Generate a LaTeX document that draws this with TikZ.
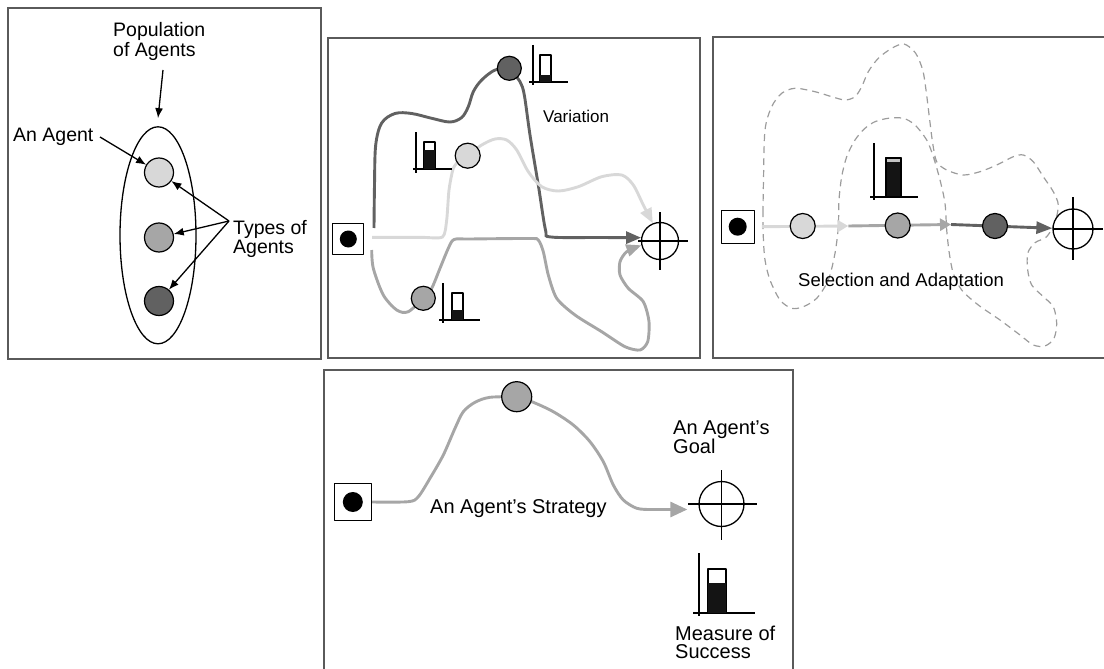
\documentclass[tikz,border=0pt]{standalone}
\usepackage{fontspec}
\setmainfont{Liberation Sans}
\usetikzlibrary{arrows.meta,shapes.geometric,backgrounds}
\definecolor{lightc}{HTML}{D8D8D8}
\definecolor{midc}{HTML}{A6A6A6}
\definecolor{darkc}{HTML}{616161}
\definecolor{framec}{HTML}{5A5A5A}
\definecolor{dashc}{HTML}{9C9C9C}
\definecolor{barc}{HTML}{141414}
\definecolor{bandc}{HTML}{C4C4C4}
\begin{document}
\begin{tikzpicture}[x=1pt,y=-1pt,line join=round,
  frame/.style={draw=framec,line width=1.4pt},
  agent/.style={circle,draw=black,line width=1.2pt,inner sep=0pt,minimum size=#1},
  startbox/.style={draw=black,line width=1.2pt,inner sep=0pt,minimum size=#1,fill=white},
  blackdot/.style={circle,fill=black,inner sep=0pt,minimum size=#1},
  target/.style={circle,draw=black,line width=1.3pt,inner sep=0pt,fill=white,minimum size=#1},
  cross/.style={draw=black,line width=1.3pt},
  lab/.style={inner sep=0pt,anchor=base west,text=black},
  fA/.style={font=\fontsize{19.5pt}{23pt}\selectfont},
  fB/.style={font=\fontsize{17pt}{20pt}\selectfont},
  fC/.style={font=\fontsize{18.5pt}{22pt}\selectfont},
  fD/.style={font=\fontsize{20pt}{24pt}\selectfont},
  blackarr/.style={draw=black,line width=1.3pt,-{Latex[length=10pt,width=8pt]}},
  lpath/.style={draw=lightc,line width=2.9pt},
  mpath/.style={draw=midc,line width=2.9pt},
  dpath/.style={draw=darkc,line width=2.9pt},
  landscape/.style={draw=dashc,line width=1.2pt,dash pattern=on 7pt off 5pt},
  axis/.style={draw=black,line width=1.2pt},
  baro/.style={draw=black,line width=1.1pt,fill=white},
  barf/.style={fill=barc},
]
\useasboundingbox (0,0) rectangle (1104,669);

%================ Panel 1
\node[ellipse,draw=black,line width=1.3pt,minimum width=76pt,minimum height=217pt,inner sep=0pt] (pop) at (158,235.3) {};
\node[agent=29pt,fill=lightc] (p1a) at (159,172.5) {};
\node[agent=29pt,fill=midc] (p1b) at (159,237.5) {};
\node[agent=29pt,fill=darkc] (p1c) at (159,301) {};
\node[lab,fA] (pop1) at (113,37) {Population};
\node[lab,fA] (pop2) at (113,57) {of Agents};
\node[lab,fA] (ana) at (13,142) {An Agent};
\node[lab,fA] (typ1) at (233,234) {Types of};
\node[lab,fA] (typ2) at (233,253) {Agents};
\coordinate (popa) at (163,70);
\draw[blackarr] (popa) -- ([yshift=8pt]pop.north);
\coordinate (anaa) at (100,137);
\draw[blackarr] (anaa) -- (p1a);
\coordinate (typa) at (229,221);
\draw[blackarr] (typa) -- (p1a);
\draw[blackarr] (typa) -- (p1b);
\draw[blackarr] (typa) -- (p1c);

%================ Panel 2
\node[startbox=31pt] (s2) at (348.3,239) {};
\node[blackdot=17pt] (s2d) at (s2.center) {};
\node[target=37pt] (t2) at (660,241) {};
\draw[cross] ([xshift=-22pt]t2.center) -- ([xshift=28pt]t2.center);
\draw[cross] ([yshift=29pt]t2.center) -- ([yshift=-29pt]t2.center);
\node[agent=24pt,fill=darkc] (a2d) at (509.3,68.3) {};
\node[agent=25pt,fill=lightc] (a2l) at (467.7,155.7) {};
\node[agent=24pt,fill=midc] (a2m) at (423.3,298.3) {};
\node[lab,fB] (var) at (543,122) {Variation};
% meters
\draw[axis] (533,45) -- (533,85);
\draw[axis] (529,82) -- (568,82);
\draw[baro] (540,55) rectangle (551,82);
\fill[barf] (540,75) rectangle (551,82);
\draw[axis] (416,132) -- (416,173);
\draw[axis] (413,169) -- (452,169);
\draw[baro] (424,142) rectangle (435,169);
\fill[barf] (424,150) rectangle (435,169);
\draw[axis] (443,283) -- (443,323);
\draw[axis] (439,320) -- (480,320);
\draw[baro] (452,293) rectangle (463,320);
\fill[barf] (452,310) rectangle (463,320);

%================ Panel 3
\node[startbox=33pt] (s3) at (737.7,226.7) {};
\node[blackdot=18pt] (s3d) at (s3.center) {};
\node[target=40pt] (t3) at (1073,229) {};
\draw[cross] ([xshift=-20pt]t3.center) -- ([xshift=30pt]t3.center);
\draw[cross] ([yshift=32pt]t3.center) -- ([yshift=-31pt]t3.center);
\coordinate (c3a) at (848.3,226);
\coordinate (c3b) at (951,224.5);
\node[agent=25pt,fill=lightc] (a3l) at (802.7,226) {};
\node[agent=25pt,fill=midc] (a3m) at (897.7,225.5) {};
\node[agent=25pt,fill=darkc] (a3d) at (995,226) {};
\node[lab,fC] (sel) at (798,286) {Selection and Adaptation};
\draw[axis] (874,143) -- (874,200);
\draw[axis] (870,197) -- (918,197);
\draw[baro] (886,158) rectangle (901,197);
\fill[bandc] (886.5,158.5) rectangle (900.5,162);
\fill[barf] (886,162) rectangle (901,197);
\draw[draw=black,line width=1.1pt] (886,158) rectangle (901,197);

%================ Panel 4
\node[startbox=37pt] (s4) at (352.8,502) {};
\node[blackdot=20pt] (s4d) at (s4.center) {};
\node[agent=30pt,fill=midc] (a4) at (516.7,396.7) {};
\node[target=45pt] (t4) at (721.5,504) {};
\draw[cross] ([xshift=-33.5pt]t4.center) -- ([xshift=35.5pt]t4.center);
\draw[cross] ([yshift=34pt]t4.center) -- ([yshift=-36pt]t4.center);
\node[lab,fD] (strat) at (430,513) {An Agent's Strategy};
\node[lab,fD] (goal1) at (673,434) {An Agent's};
\node[lab,fD] (goal2) at (673,453) {Goal};
\node[lab,fD] (meas1) at (675,640) {Measure of};
\node[lab,fD] (meas2) at (675,658) {Success};
\draw[axis] (699,553) -- (699,616);
\draw[axis] (693,613) -- (755,613);
\draw[baro] (708,569) rectangle (726,613);
\fill[barf] (708,583) rectangle (726,613);

%================ background: frames and paths
\begin{scope}[on background layer]
\draw[frame] (8,8) rectangle (321,359);
\draw[frame] (328,38) rectangle (700,358);
\draw[frame] (713,37) rectangle (1115,358);
\draw[frame] (324,370) rectangle (793,680);

% panel 2 paths
\draw[dpath] plot[smooth,tension=0.55] coordinates {(374,228) (374.5,185) (375.7,145) (381.7,123) (395,113.5) (411.7,113.5) (431.7,118.3) (450,122) (461.7,117.5) (468.3,106.7) (473.3,91.7) (481.7,80) (495,70) (a2d.center)};
\draw[dpath,-{Triangle[length=15pt,width=12pt]}] plot[smooth,tension=0.5] coordinates {(a2d.center) (520,81.7) (524.3,95) (530,135) (538.3,185) (545.5,230) (551,237) (600,237.5) (t2.170)};
\draw[lpath] plot[smooth,tension=0.4] coordinates {(372,237.3) (420,237.3) (442.5,237) (446.7,220) (449,190) (453.3,168.3) (460,160) (a2l.center)};
\draw[lpath,-{Triangle[length=15pt,width=12pt]}] plot[smooth,tension=0.5] coordinates {(a2l.center) (481.7,145) (495,139) (506.7,140) (516.7,150) (528.3,171.7) (541.7,186.7) (558.3,191) (578.3,186.7) (601.7,176.7) (621.7,175) (633.3,185) (643.3,205) (t2.112)};
\draw[mpath] plot[smooth,tension=0.5] coordinates {(371.7,250) (373.3,268.3) (383.3,295) (396.7,310) (408.3,311.7) (a2m.center)};
\draw[mpath,-{Triangle[length=15pt,width=12pt]}] plot[smooth,tension=0.45] coordinates {(a2m.center) (431.7,288.3) (440,268.3) (448.3,248.3) (454,239.5) (470,239) (530,238.5) (538.3,240) (543.3,251.7) (548.3,275) (556.7,298.3) (575,315) (601.7,331.7) (625,346.7) (640,350) (647.7,341.7) (649,321.7) (643.3,301.7) (628.3,288.3) (620,275) (620,261.7) (626.7,251.7) (t2.193)};

% panel 3 landscape and paths
\draw[landscape] plot[smooth cycle,tension=0.5] coordinates {(763.3,236.7) (763,213) (763.5,180) (765,130) (771.7,106.7) (781.7,93.3) (795,88.3) (815,91.7) (831.7,96.7) (845,100) (855,96.7) (861.7,86.7) (868.3,71.7) (878.3,58.3) (891.7,48.3) (904,44) (915.5,53) (922.7,70) (926,90) (929.3,116.7) (932.7,143.3) (936.7,161.7) (946.7,170) (963.3,175) (980,171.7) (996.7,165) (1013.3,156.7) (1023.3,155) (1033.3,161.7) (1043.3,176.7) (1053.3,191.7) (1058.3,205) (1055,222) (1046.7,236.7) (1035,242.7) (1027.7,253.3) (1027.7,270) (1031.7,285) (1043.3,296.7) (1053.3,306.7) (1056.7,323.3) (1054,338.3) (1045,346) (1033.3,345) (1020,335) (1000,320) (978.3,305) (961.7,290) (953.3,273.3) (949.3,253.3) (946.7,230) (945,203.3) (940,180) (933.3,156.7) (926.7,140) (915,125) (903.3,118.3) (888.3,118.3) (875,121.7) (865,128.3) (855,140) (846.7,156.7) (841.7,176.7) (839,200) (838.3,226.7) (835,253.3) (828.3,280) (816.7,298.3) (803.3,306.7) (791.7,308.3) (780,300) (770,280) (765,260)};
\draw[lpath,-{Triangle[length=11pt,width=12pt]}] ([xshift=7pt]s3.east) -- (c3a);
\draw[mpath,-{Triangle[length=11pt,width=12pt]}] (c3a) -- (c3b);
\draw[dpath,-{Triangle[length=16pt,width=12pt]}] (c3b) -- (t3);

% panel 4 path
\draw[mpath] plot[smooth,tension=0.5] coordinates {(s4.east) (408.3,501.7) (418.3,496.7) (430,478.3) (443.3,455) (455,428.3) (463.3,411.7) (475,402.3) (490,397.3) (a4.center)};
\draw[mpath,-{Triangle[length=17pt,width=15pt]}] plot[smooth,tension=0.5] coordinates {(a4.center) (533.3,402.3) (553.3,411.7) (573.3,425) (590,441.7) (603.3,461.7) (613.3,485) (623.3,500) (636.7,508.3) (650,509.5)} -- ([xshift=-11pt,yshift=-5.5pt]t4.west);
\end{scope}
\end{tikzpicture}
\end{document}
